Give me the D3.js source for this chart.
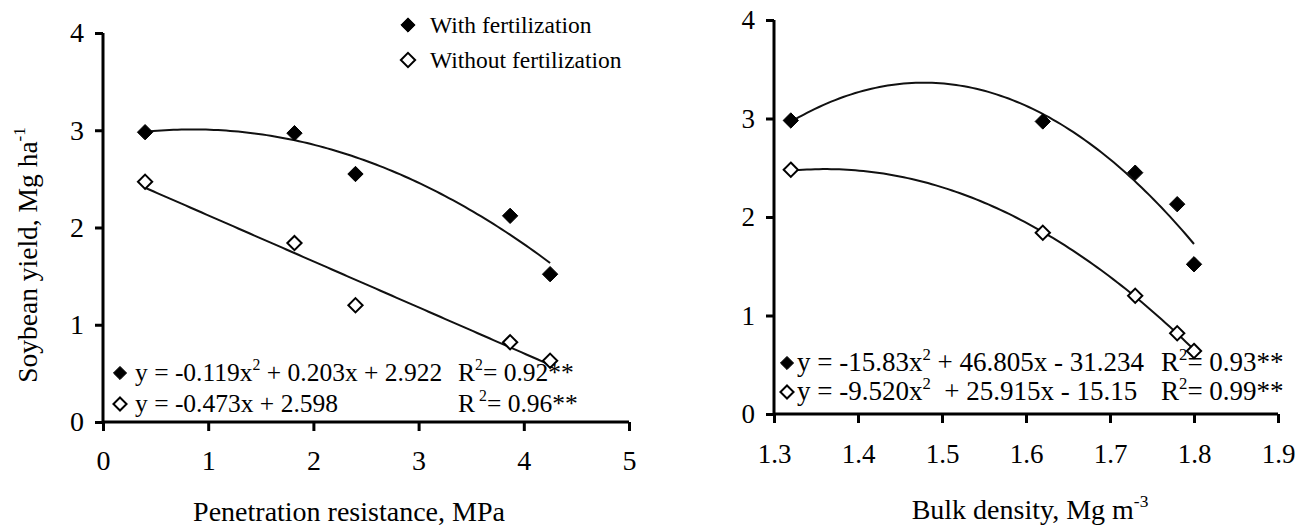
<!DOCTYPE html>
<html>
<head>
<meta charset="utf-8">
<script src="https://cdn.jsdelivr.net/npm/d3@7"></script>
<style>
  body { margin: 0; background: #fff; }
  svg { display: block; font-family: "Liberation Serif", "Times New Roman", serif; }
  text { white-space: pre; }
</style>
</head>
<body>
<svg id="chart" width="1295" height="531"></svg>
<script>
// Left panel: penetration resistance (MPa)
const penResistance = [0.4, 1.82, 2.4, 3.87, 4.25];
const penWithFert = [2.98, 2.97, 2.55, 2.12, 1.52];
const penWithoutFert = [2.47, 1.84, 1.2, 0.82, 0.63];

// Right panel: bulk density (Mg m-3)
const bulkDensity = [1.32, 1.62, 1.73, 1.78, 1.8];
const bulkWithFert = [2.98, 2.97, 2.45, 2.13, 1.52];
const bulkWithoutFert = [2.48, 1.84, 1.2, 0.82, 0.64];

// Regression coefficients as printed on the chart [a, b, c] for a*x^2 + b*x + c
const penFitWith = [-0.119, 0.203, 2.922];
const penFitWithout = [0, -0.473, 2.598];
const bulkFitWith = [-15.83, 46.805, -31.234];
const bulkFitWithout = [-9.52, 25.915, -15.15];

// Tick labels
const penTicks = [0, 1, 2, 3, 4, 5];
const bulkTicks = [1.3, 1.4, 1.5, 1.6, 1.7, 1.8, 1.9];
const yieldTicks = [0, 1, 2, 3, 4];

const seriesNames = ["With fertilization", "Without fertilization"];

const svg = d3.select("#chart");

const diamond = d3.symbol().type(d3.symbolDiamond2);

// Draws a filled or open diamond
const drawMarker = (g, x, y, filled, size) => {
  g.append("path")
    .attr("d", diamond.size(size)())
    .attr("transform", `translate(${x},${y})`)
    .attr("fill", filled ? "#000" : "#fff")
    .attr("stroke", "#000")
    .attr("stroke-width", filled ? 1 : 2);
};

// Adds text where parts wrapped in ^...^ are drawn as superscripts
const richText = (g, x, y, str, size) => {
  const t = g.append("text")
    .attr("x", x)
    .attr("y", y)
    .attr("font-size", size);
  str.split("^").forEach((part, i) => {
    if (!part) return;
    if (i % 2 === 1) {
      t.append("tspan").attr("dy", -size * 0.42).attr("font-size", size * 0.62).text(part);
    } else {
      t.append("tspan").attr("dy", i > 0 ? size * 0.42 : 0).text(part);
    }
  });
  return t;
};

const drawPanel = (opt) => {
  const g = svg.append("g");
  const x = d3.scaleLinear().domain(opt.xDomain).range(opt.xRange);
  const y = d3.scaleLinear().domain([0, 4]).range(opt.yRange);

  // Axes
  const xAxis = g.append("g")
    .attr("transform", `translate(0,${opt.yRange[0]})`)
    .call(d3.axisBottom(x).tickValues(opt.xTicks).tickSize(9).tickPadding(opt.xPad)
      .tickFormat(opt.xFormat));
  const yAxis = g.append("g")
    .attr("transform", `translate(${opt.xRange[0]},0)`)
    .call(d3.axisLeft(y).tickValues(yieldTicks).tickSize(8).tickPadding(11)
      .tickFormat(d3.format("d")));

  [xAxis, yAxis].forEach((a) => {
    a.select(".domain").attr("stroke-width", 3);
    a.selectAll(".tick line").attr("stroke-width", 3);
    a.selectAll(".tick text")
      .attr("font-family", "Liberation Serif")
      .attr("font-size", opt.tickSize)
      .attr("fill", "#000");
  });
  xAxis.select(".domain").attr("d", `M${opt.xRange[0]},0H${opt.xRange[1]}`);
  yAxis.select(".domain").attr("d", `M0,${opt.yRange[0]}V${opt.yRange[1]}`);

  // Fitted curves
  const line = d3.line().x((d) => x(d[0])).y((d) => y(d[1]));
  const xs = opt.xs;
  [opt.fitWith, opt.fitWithout].forEach((c) => {
    const x0 = xs[0], x1 = xs[xs.length - 1];
    const pts = d3.range(0, 101).map((i) => {
      const xv = x0 + (x1 - x0) * i / 100;
      return [xv, c[0] * xv * xv + c[1] * xv + c[2]];
    });
    g.append("path")
      .attr("d", line(pts))
      .attr("fill", "none")
      .attr("stroke", "#111")
      .attr("stroke-width", 2);
  });

  // Points
  xs.forEach((xv, i) => {
    drawMarker(g, x(xv), y(opt.withFert[i]), true, 150);
    drawMarker(g, x(xv), y(opt.withoutFert[i]), false, 130);
  });

  // Equations
  opt.eqs.forEach((eq, i) => {
    drawMarker(g, eq.mx, eq.my, i === 0, 110);
    richText(g, eq.x, eq.y, eq.text, opt.eqSize);
    richText(g, eq.rx, eq.y, eq.r2, opt.eqSize);
  });

  // Axis titles
  richText(g, opt.xTitleX, opt.xTitleY, opt.xTitle, 28).attr("text-anchor", "middle");
  return g;
};

drawPanel({
  xDomain: [0, 5], xRange: [103, 629], yRange: [422, 33],
  xTicks: penTicks, xFormat: d3.format("d"), xPad: 19, tickSize: 28,
  xs: penResistance, withFert: penWithFert, withoutFert: penWithoutFert,
  fitWith: penFitWith, fitWithout: penFitWithout,
  eqSize: 25.5,
  eqs: [
    { mx: 120, my: 373, x: 135, y: 381, rx: 458,
      text: "y = -0.119x^2^ + 0.203x + 2.922", r2: "R^2^= 0.92**" },
    { mx: 120, my: 404, x: 135, y: 412, rx: 458,
      text: "y = -0.473x + 2.598", r2: "R^ 2^= 0.96**" }
  ],
  xTitle: "Penetration resistance, MPa", xTitleX: 349, xTitleY: 521
});

drawPanel({
  xDomain: [1.3, 1.9], xRange: [774, 1278], yRange: [414, 20],
  xTicks: bulkTicks, xFormat: d3.format(".1f"), xPad: 21, tickSize: 27,
  xs: bulkDensity, withFert: bulkWithFert, withoutFert: bulkWithoutFert,
  fitWith: bulkFitWith, fitWithout: bulkFitWithout,
  eqSize: 27,
  eqs: [
    { mx: 787, my: 363, x: 797, y: 371, rx: 1161,
      text: "y = -15.83x^2^ + 46.805x - 31.234", r2: "R^2^= 0.93**" },
    { mx: 787, my: 392, x: 797, y: 400, rx: 1161,
      text: "y = -9.520x^2^  + 25.915x - 15.15", r2: "R^2^= 0.99**" }
  ],
  xTitle: "Bulk density, Mg m^-3^", xTitleX: 1030, xTitleY: 519
});

// Y axis title (left panel only)
richText(svg, 0, 0, "Soybean yield, Mg ha^-1^", 27.5)
  .attr("text-anchor", "middle")
  .attr("transform", "translate(37,255) rotate(-90)");

// Legend
const legend = svg.append("g");
seriesNames.forEach((name, i) => {
  drawMarker(legend, 408, 25 + i * 35, i === 0, 130);
  legend.append("text")
    .attr("x", 430)
    .attr("y", 33 + i * 35)
    .attr("font-size", 23.5)
    .text(name);
});
</script>
</body>
</html>
